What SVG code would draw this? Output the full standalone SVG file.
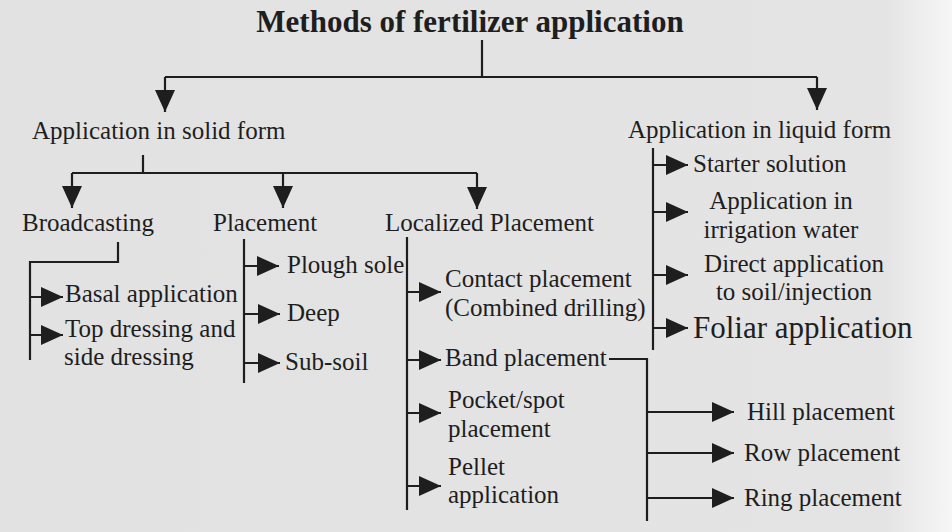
<svg xmlns="http://www.w3.org/2000/svg" width="952" height="532" viewBox="0 0 952 532">
<defs>
<linearGradient id="paper" x1="0" y1="0" x2="1" y2="0">
<stop offset="0" stop-color="#e2e2e2"/>
<stop offset="0.93" stop-color="#e4e4e4"/>
<stop offset="1" stop-color="#f6f6f6"/>
</linearGradient>
<marker id="ah" markerUnits="userSpaceOnUse" markerWidth="24" markerHeight="22" refX="22" refY="10" orient="auto">
<path d="M0,0 L22,10 L0,20 z" fill="#1e1e1e"/>
</marker>
<style>
text{font-family:"Liberation Serif","Times New Roman",serif;font-size:25px;fill:#1e1e1e}
.t{font-weight:bold;font-size:31px}
.big{font-size:31px}
.m{text-anchor:middle}
#connectors path{fill:none;stroke:#1e1e1e;stroke-width:2.2}
.a{marker-end:url(#ah)}
</style>
</defs>
<rect width="952" height="532" fill="url(#paper)"/>
<g id="connectors">
<path d="M482,40 V77"/>
<path d="M165,77 H817"/>
<path class="a" d="M165,77 V112"/>
<path class="a" d="M817,77 V110"/>
<path d="M143,155 V173"/>
<path d="M72,173 H477"/>
<path class="a" d="M72,173 V208"/>
<path class="a" d="M283,173 V208"/>
<path class="a" d="M477,173 V209"/>
<path d="M118,242 V262 H30 V360"/>
<path class="a" d="M30,297 H63"/>
<path class="a" d="M30,335 H63"/>
<path d="M244,239 V383"/>
<path class="a" d="M244,266 H279"/>
<path class="a" d="M244,314 H280"/>
<path class="a" d="M244,363 H280"/>
<path d="M407,237 V510"/>
<path class="a" d="M407,292 H441"/>
<path class="a" d="M407,360 H441"/>
<path class="a" d="M407,413 H441"/>
<path class="a" d="M407,486 H441"/>
<path d="M609,359 H647 V521"/>
<path class="a" d="M647,412 H734"/>
<path class="a" d="M647,453 H734"/>
<path class="a" d="M647,498 H734"/>
<path d="M653,148 V350"/>
<path class="a" d="M653,165 H688"/>
<path class="a" d="M653,212 H688"/>
<path class="a" d="M653,275 H688"/>
<path class="a" d="M653,328 H688"/>
</g>
<g id="title"><text class="t m" x="470" y="32">Methods of fertilizer application</text></g>
<g id="solid"><text x="32" y="139">Application in solid form</text></g>
<g id="liquid"><text x="628" y="138">Application in liquid form</text></g>
<g id="broadcasting"><text x="22" y="231">Broadcasting</text></g>
<g id="placement"><text x="213" y="231">Placement</text></g>
<g id="localized"><text x="385" y="231">Localized Placement</text></g>
<g id="basal"><text x="65" y="302">Basal application</text></g>
<g id="topdressing"><text x="65" y="337">Top dressing and</text><text x="64" y="365">side dressing</text></g>
<g id="plough"><text x="287" y="273">Plough sole</text></g>
<g id="deep"><text x="287" y="321">Deep</text></g>
<g id="subsoil"><text x="285" y="370">Sub-soil</text></g>
<g id="contact"><text x="445" y="287">Contact placement</text><text x="445" y="316">(Combined drilling)</text></g>
<g id="band"><text x="445" y="366">Band placement</text></g>
<g id="pocket"><text x="448" y="408">Pocket/spot</text><text x="448" y="437">placement</text></g>
<g id="pellet"><text x="448" y="475">Pellet</text><text x="448" y="503">application</text></g>
<g id="hill"><text x="747" y="420">Hill placement</text></g>
<g id="row"><text x="744" y="461">Row placement</text></g>
<g id="ring"><text x="744" y="506">Ring placement</text></g>
<g id="starter"><text x="693" y="172">Starter solution</text></g>
<g id="irrigation"><text class="m" x="781" y="209">Application in</text><text class="m" x="781" y="238">irrigation water</text></g>
<g id="direct"><text class="m" x="794" y="272">Direct application</text><text class="m" x="794" y="300">to soil/injection</text></g>
<g id="foliar"><text class="big" x="693" y="338">Foliar application</text></g>
</svg>
